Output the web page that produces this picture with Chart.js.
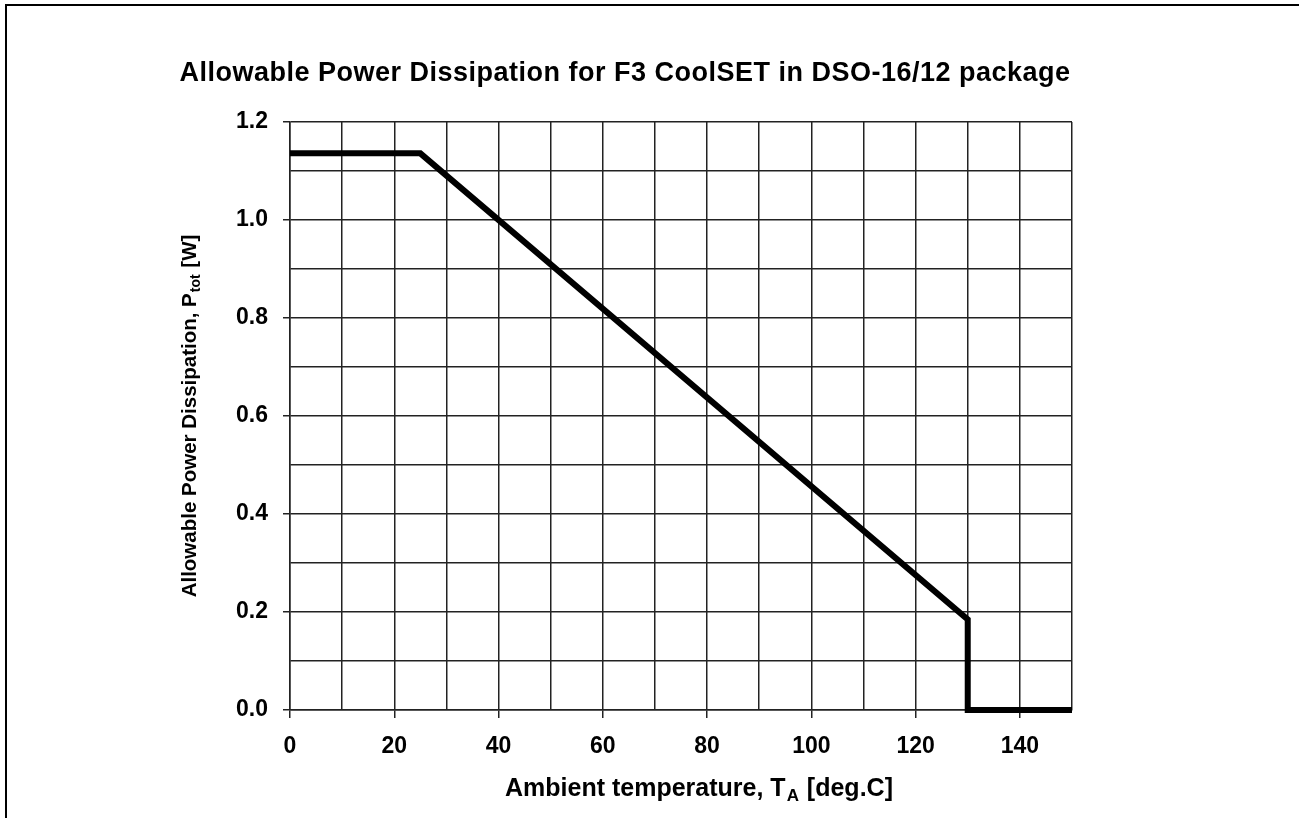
<!DOCTYPE html>
<html>
<head>
<meta charset="utf-8">
<title>Allowable Power Dissipation</title>
<script src="https://cdn.jsdelivr.net/npm/chart.js@4.4.1/dist/chart.umd.min.js"></script>
<style>
    html, body { margin: 0; padding: 0; background: #fff; }
    .wrap { position: relative; width: 1299px; height: 818px; overflow: hidden; }
    .frame {
        position: absolute; left: 5px; top: 4px; width: 1400px; height: 900px;
        border-top: 2px solid #000; border-left: 2px solid #000;
    }
    canvas { position: absolute; left: 0; top: 0; }
</style>
</head>
<body>
<div class="wrap">
    <div class="frame"></div>
    <canvas id="chart" width="1299" height="818"></canvas>
</div>
<script>
// ===== DATA =====
const tempC = [0, 25, 130, 130, 150];
const powerW = [1.136, 1.136, 0.185, 0, 0];
const xTickLabels = [0, 20, 40, 60, 80, 100, 120, 140];
const yTickLabels = ['0.0', '0.2', '0.4', '0.6', '0.8', '1.0', '1.2'];

const chartTitle = 'Allowable Power Dissipation for F3 CoolSET in DSO-16/12 package';
const xTitle = ['Ambient temperature, T', 'A', ' [deg.C]'];
const yTitle = ['Allowable Power Dissipation, P', 'tot', ' [W]'];

const tickFont = { family: '"Liberation Sans", Arial', size: 23, weight: 'bold' };
const gridColor = '#222';

function isXMajor(v) { return xTickLabels.includes(Math.round(v)); }
function yLabel(v) {
    const s = v.toFixed(1);
    return yTickLabels.includes(s) ? s : '';
}

// draws a title with a subscript part, centred on the origin
function drawSubTitle(ctx, parts, size) {
    const big = 'bold ' + size + 'px "Liberation Sans", Arial';
    const small = 'bold ' + Math.round(size * 0.68) + 'px "Liberation Sans", Arial';
    ctx.font = big;
    const w0 = ctx.measureText(parts[0]).width;
    const w2 = ctx.measureText(parts[2]).width;
    ctx.font = small;
    const w1 = ctx.measureText(parts[1]).width;
    let x = -(w0 + w1 + w2 + 2) / 2;
    ctx.textBaseline = 'alphabetic';
    ctx.textAlign = 'left';
    ctx.font = big;
    ctx.fillText(parts[0], x, 0);
    x += w0;
    ctx.font = small;
    ctx.fillText(parts[1], x + 1, Math.round(size * 0.2));
    x += w1 + 2;
    ctx.font = big;
    ctx.fillText(parts[2], x, 0);
}

const titlesPlugin = {
    id: 'titles',
    afterDraw(chart) {
        const ctx = chart.ctx;
        const area = chart.chartArea;
        ctx.save();
        ctx.fillStyle = '#000';
        ctx.font = 'bold 27px "Liberation Sans", Arial';
        ctx.letterSpacing = '0.5px';
        ctx.textAlign = 'center';
        ctx.textBaseline = 'alphabetic';
        ctx.fillText(chartTitle, 625, 81);
        ctx.letterSpacing = '0px';

        ctx.save();
        ctx.translate(699, 796);
        drawSubTitle(ctx, xTitle, 25);
        ctx.restore();

        ctx.save();
        ctx.translate(196, (area.top + area.bottom) / 2);
        ctx.rotate(-Math.PI / 2);
        drawSubTitle(ctx, yTitle, 20.5);
        ctx.restore();
        ctx.restore();
    }
};

// ===== CHART =====
const ctx = document.getElementById('chart').getContext('2d');
new Chart(ctx, {
    type: 'line',
    data: {
        datasets: [{
            data: tempC.map((t, i) => ({ x: t, y: powerW[i] })),
            borderColor: '#000',
            borderWidth: 6,
            borderJoinStyle: 'miter',
            pointRadius: 0,
            tension: 0,
            fill: false,
            clip: false
        }]
    },
    options: {
        responsive: false,
        animation: false,
        devicePixelRatio: 1,
        layout: { padding: { left: 0, right: 227, top: 122, bottom: 0 } },
        plugins: { legend: { display: false }, tooltip: { enabled: false } },
        scales: {
            x: {
                type: 'linear',
                min: 0, max: 150,
                afterFit: s => { s.height = 108; },
                ticks: {
                    stepSize: 10,
                    color: '#000',
                    font: tickFont,
                    padding: 15,
                    maxRotation: 0,
                    autoSkip: false,
                    callback: v => isXMajor(v) ? String(v) : ''
                },
                grid: {
                    color: gridColor,
                    lineWidth: 1.5,
                    tickLength: 8,
                    tickColor: c => isXMajor(c.tick.value) ? gridColor : 'rgba(0,0,0,0)'
                },
                border: { color: gridColor, width: 1.5 }
            },
            y: {
                type: 'linear',
                min: 0, max: 1.2,
                afterFit: s => { s.width = 290; },
                ticks: {
                    stepSize: 0.1,
                    color: '#000',
                    font: tickFont,
                    padding: 15,
                    autoSkip: false,
                    callback: v => yLabel(v)
                },
                grid: {
                    color: gridColor,
                    lineWidth: 1.5,
                    tickLength: 7,
                    tickColor: c => yLabel(c.tick.value) ? gridColor : 'rgba(0,0,0,0)'
                },
                border: { color: gridColor, width: 1.5 }
            }
        }
    },
    plugins: [titlesPlugin]
});
</script>
</body>
</html>
